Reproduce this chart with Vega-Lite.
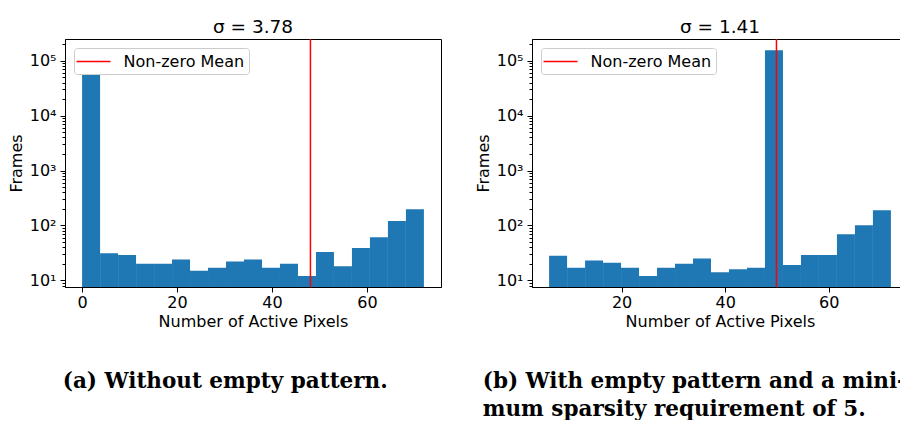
{
  "$schema": "https://vega.github.io/schema/vega-lite/v6.json",
  "padding": {"left": 7, "top": 17, "right": 0, "bottom": 0},
  "background": "white",
  "spacing": 32,
  "resolve": {"scale": {"color": "independent"}, "legend": {"color": "independent"}},
  "hconcat": [
    {
      "title": {"text": "(a) Without empty pattern.", "orient": "bottom", "anchor": "start", "font": "DejaVu Serif", "fontWeight": "bold", "fontSize": 21.5, "baseline": "alphabetic", "offset": 58, "dx": 55, "color": "#000"},
      "vconcat": [
        {
          "width": 376,
          "height": 248,
          "title": {"text": "σ = 3.78", "offset": -19, "baseline": "bottom"},
          "layer": [
            {
              "data": {"values": [
                {"start": 0, "end": 3.789, "count": 150000},
                {"start": 3.789, "end": 7.579, "count": 31},
                {"start": 7.579, "end": 11.368, "count": 29},
                {"start": 11.368, "end": 15.158, "count": 20},
                {"start": 15.158, "end": 18.947, "count": 20},
                {"start": 18.947, "end": 22.737, "count": 24},
                {"start": 22.737, "end": 26.526, "count": 15},
                {"start": 26.526, "end": 30.316, "count": 17},
                {"start": 30.316, "end": 34.105, "count": 22},
                {"start": 34.105, "end": 37.895, "count": 24},
                {"start": 37.895, "end": 41.684, "count": 17},
                {"start": 41.684, "end": 45.474, "count": 20},
                {"start": 45.474, "end": 49.263, "count": 12},
                {"start": 49.263, "end": 53.053, "count": 33},
                {"start": 53.053, "end": 56.842, "count": 18},
                {"start": 56.842, "end": 60.632, "count": 39},
                {"start": 60.632, "end": 64.421, "count": 61},
                {"start": 64.421, "end": 68.211, "count": 120},
                {"start": 68.211, "end": 72, "count": 198}
              ]},
              "mark": {"type": "bar", "color": "#1f77b4", "clip": true},
              "encoding": {
                "x": {"field": "start", "type": "quantitative", "scale": {"domain": [-3.6, 75.6], "nice": false, "zero": false},
                      "axis": {"title": "Number of Active Pixels", "values": [0, 20, 40, 60], "labelFlush": false, "labelPadding": 2, "titlePadding": 3}},
                "x2": {"field": "end"},
                "y": {"field": "count", "type": "quantitative", "scale": {"type": "log", "domain": [7.57, 248000], "nice": false},
                      "axis": {"title": "Frames", "labelOverlap": false, "labelPadding": 4, "titlePadding": 5,
                               "values": [8, 9, 10, 20, 30, 40, 50, 60, 70, 80, 90, 100, 200, 300, 400, 500, 600, 700, 800, 900, 1000, 2000, 3000, 4000, 5000, 6000, 7000, 8000, 9000, 10000, 20000, 30000, 40000, 50000, 60000, 70000, 80000, 90000, 100000, 200000],
                               "labelExpr": "datum.value == 10 ? '10¹' : datum.value == 100 ? '10²' : datum.value == 1000 ? '10³' : datum.value == 10000 ? '10⁴' : datum.value == 100000 ? '10⁵' : ''",
                               "tickSize": {"condition": {"test": "indexof([10, 100, 1000, 10000, 100000], datum.value) >= 0", "value": 5}, "value": 3}}},
                "y2": {"datum": 1}
              }
            },
            {
              "data": {"values": [{"mean": 48.1, "label": "Non-zero Mean"}]},
              "mark": {"type": "rule", "strokeWidth": 1.5},
              "encoding": {
                "x": {"field": "mean", "type": "quantitative"},
                "color": {"field": "label", "type": "nominal", "scale": {"range": ["#ff0000"]},
                          "legend": {"title": null, "orient": "top-left", "offset": 9, "padding": 4, "fillColor": "#ffffff", "strokeColor": "#cccccc", "cornerRadius": 3, "symbolType": "M-2,0H2", "symbolSize": 289, "symbolOffset": 6, "symbolStrokeWidth": 1.5, "labelFontSize": 16, "labelOffset": 20.5, "labelColor": "#000"}}
              }
            }
          ]
        }
      ]
    },
    {
      "title": {"text": ["(b) With empty pattern and a mini-", "mum sparsity requirement of 5."], "orient": "bottom", "anchor": "start", "font": "DejaVu Serif", "fontWeight": "bold", "fontSize": 21.5, "baseline": "alphabetic", "offset": 58, "dx": 8, "lineHeight": 28, "color": "#000"},
      "vconcat": [
        {
          "width": 376,
          "height": 248,
          "title": {"text": "σ = 1.41", "offset": -19, "baseline": "bottom"},
          "layer": [
            {
              "data": {"values": [
                {"start": 6, "end": 9.474, "count": 28},
                {"start": 9.474, "end": 12.947, "count": 17},
                {"start": 12.947, "end": 16.421, "count": 23},
                {"start": 16.421, "end": 19.895, "count": 21},
                {"start": 19.895, "end": 23.368, "count": 17},
                {"start": 23.368, "end": 26.842, "count": 12},
                {"start": 26.842, "end": 30.316, "count": 17},
                {"start": 30.316, "end": 33.789, "count": 20},
                {"start": 33.789, "end": 37.263, "count": 25},
                {"start": 37.263, "end": 40.737, "count": 14},
                {"start": 40.737, "end": 44.211, "count": 16},
                {"start": 44.211, "end": 47.684, "count": 17},
                {"start": 47.684, "end": 51.158, "count": 154000},
                {"start": 51.158, "end": 54.632, "count": 19},
                {"start": 54.632, "end": 58.105, "count": 29},
                {"start": 58.105, "end": 61.579, "count": 29},
                {"start": 61.579, "end": 65.053, "count": 69},
                {"start": 65.053, "end": 68.526, "count": 101},
                {"start": 68.526, "end": 72, "count": 190}
              ]},
              "mark": {"type": "bar", "color": "#1f77b4", "clip": true},
              "encoding": {
                "x": {"field": "start", "type": "quantitative", "scale": {"domain": [2.7, 75.3], "nice": false, "zero": false},
                      "axis": {"title": "Number of Active Pixels", "values": [20, 40, 60], "labelFlush": false, "labelPadding": 2, "titlePadding": 3}},
                "x2": {"field": "end"},
                "y": {"field": "count", "type": "quantitative", "scale": {"type": "log", "domain": [7.57, 248000], "nice": false},
                      "axis": {"title": "Frames", "labelOverlap": false, "labelPadding": 4, "titlePadding": 5,
                               "values": [8, 9, 10, 20, 30, 40, 50, 60, 70, 80, 90, 100, 200, 300, 400, 500, 600, 700, 800, 900, 1000, 2000, 3000, 4000, 5000, 6000, 7000, 8000, 9000, 10000, 20000, 30000, 40000, 50000, 60000, 70000, 80000, 90000, 100000, 200000],
                               "labelExpr": "datum.value == 10 ? '10¹' : datum.value == 100 ? '10²' : datum.value == 1000 ? '10³' : datum.value == 10000 ? '10⁴' : datum.value == 100000 ? '10⁵' : ''",
                               "tickSize": {"condition": {"test": "indexof([10, 100, 1000, 10000, 100000], datum.value) >= 0", "value": 5}, "value": 3}}},
                "y2": {"datum": 1}
              }
            },
            {
              "data": {"values": [{"mean": 49.9, "label": "Non-zero Mean"}]},
              "mark": {"type": "rule", "strokeWidth": 1.5},
              "encoding": {
                "x": {"field": "mean", "type": "quantitative"},
                "color": {"field": "label", "type": "nominal", "scale": {"range": ["#ff0000"]},
                          "legend": {"title": null, "orient": "top-left", "offset": 9, "padding": 4, "fillColor": "#ffffff", "strokeColor": "#cccccc", "cornerRadius": 3, "symbolType": "M-2,0H2", "symbolSize": 289, "symbolOffset": 6, "symbolStrokeWidth": 1.5, "labelFontSize": 16, "labelOffset": 20.5, "labelColor": "#000"}}
              }
            }
          ]
        }
      ]
    }
  ],
  "config": {
    "font": "DejaVu Sans",
    "view": {"stroke": "#000", "strokeWidth": 1},
    "axis": {"grid": false, "domainColor": "#000", "tickColor": "#000", "labelColor": "#000", "titleColor": "#000", "labelFontSize": 16, "titleFontSize": 16, "titleFontWeight": "normal", "tickSize": 5, "labelFont": "DejaVu Sans", "titleFont": "DejaVu Sans"},
    "title": {"fontSize": 18.5, "fontWeight": "normal", "font": "DejaVu Sans", "color": "#000"}
  }
}
